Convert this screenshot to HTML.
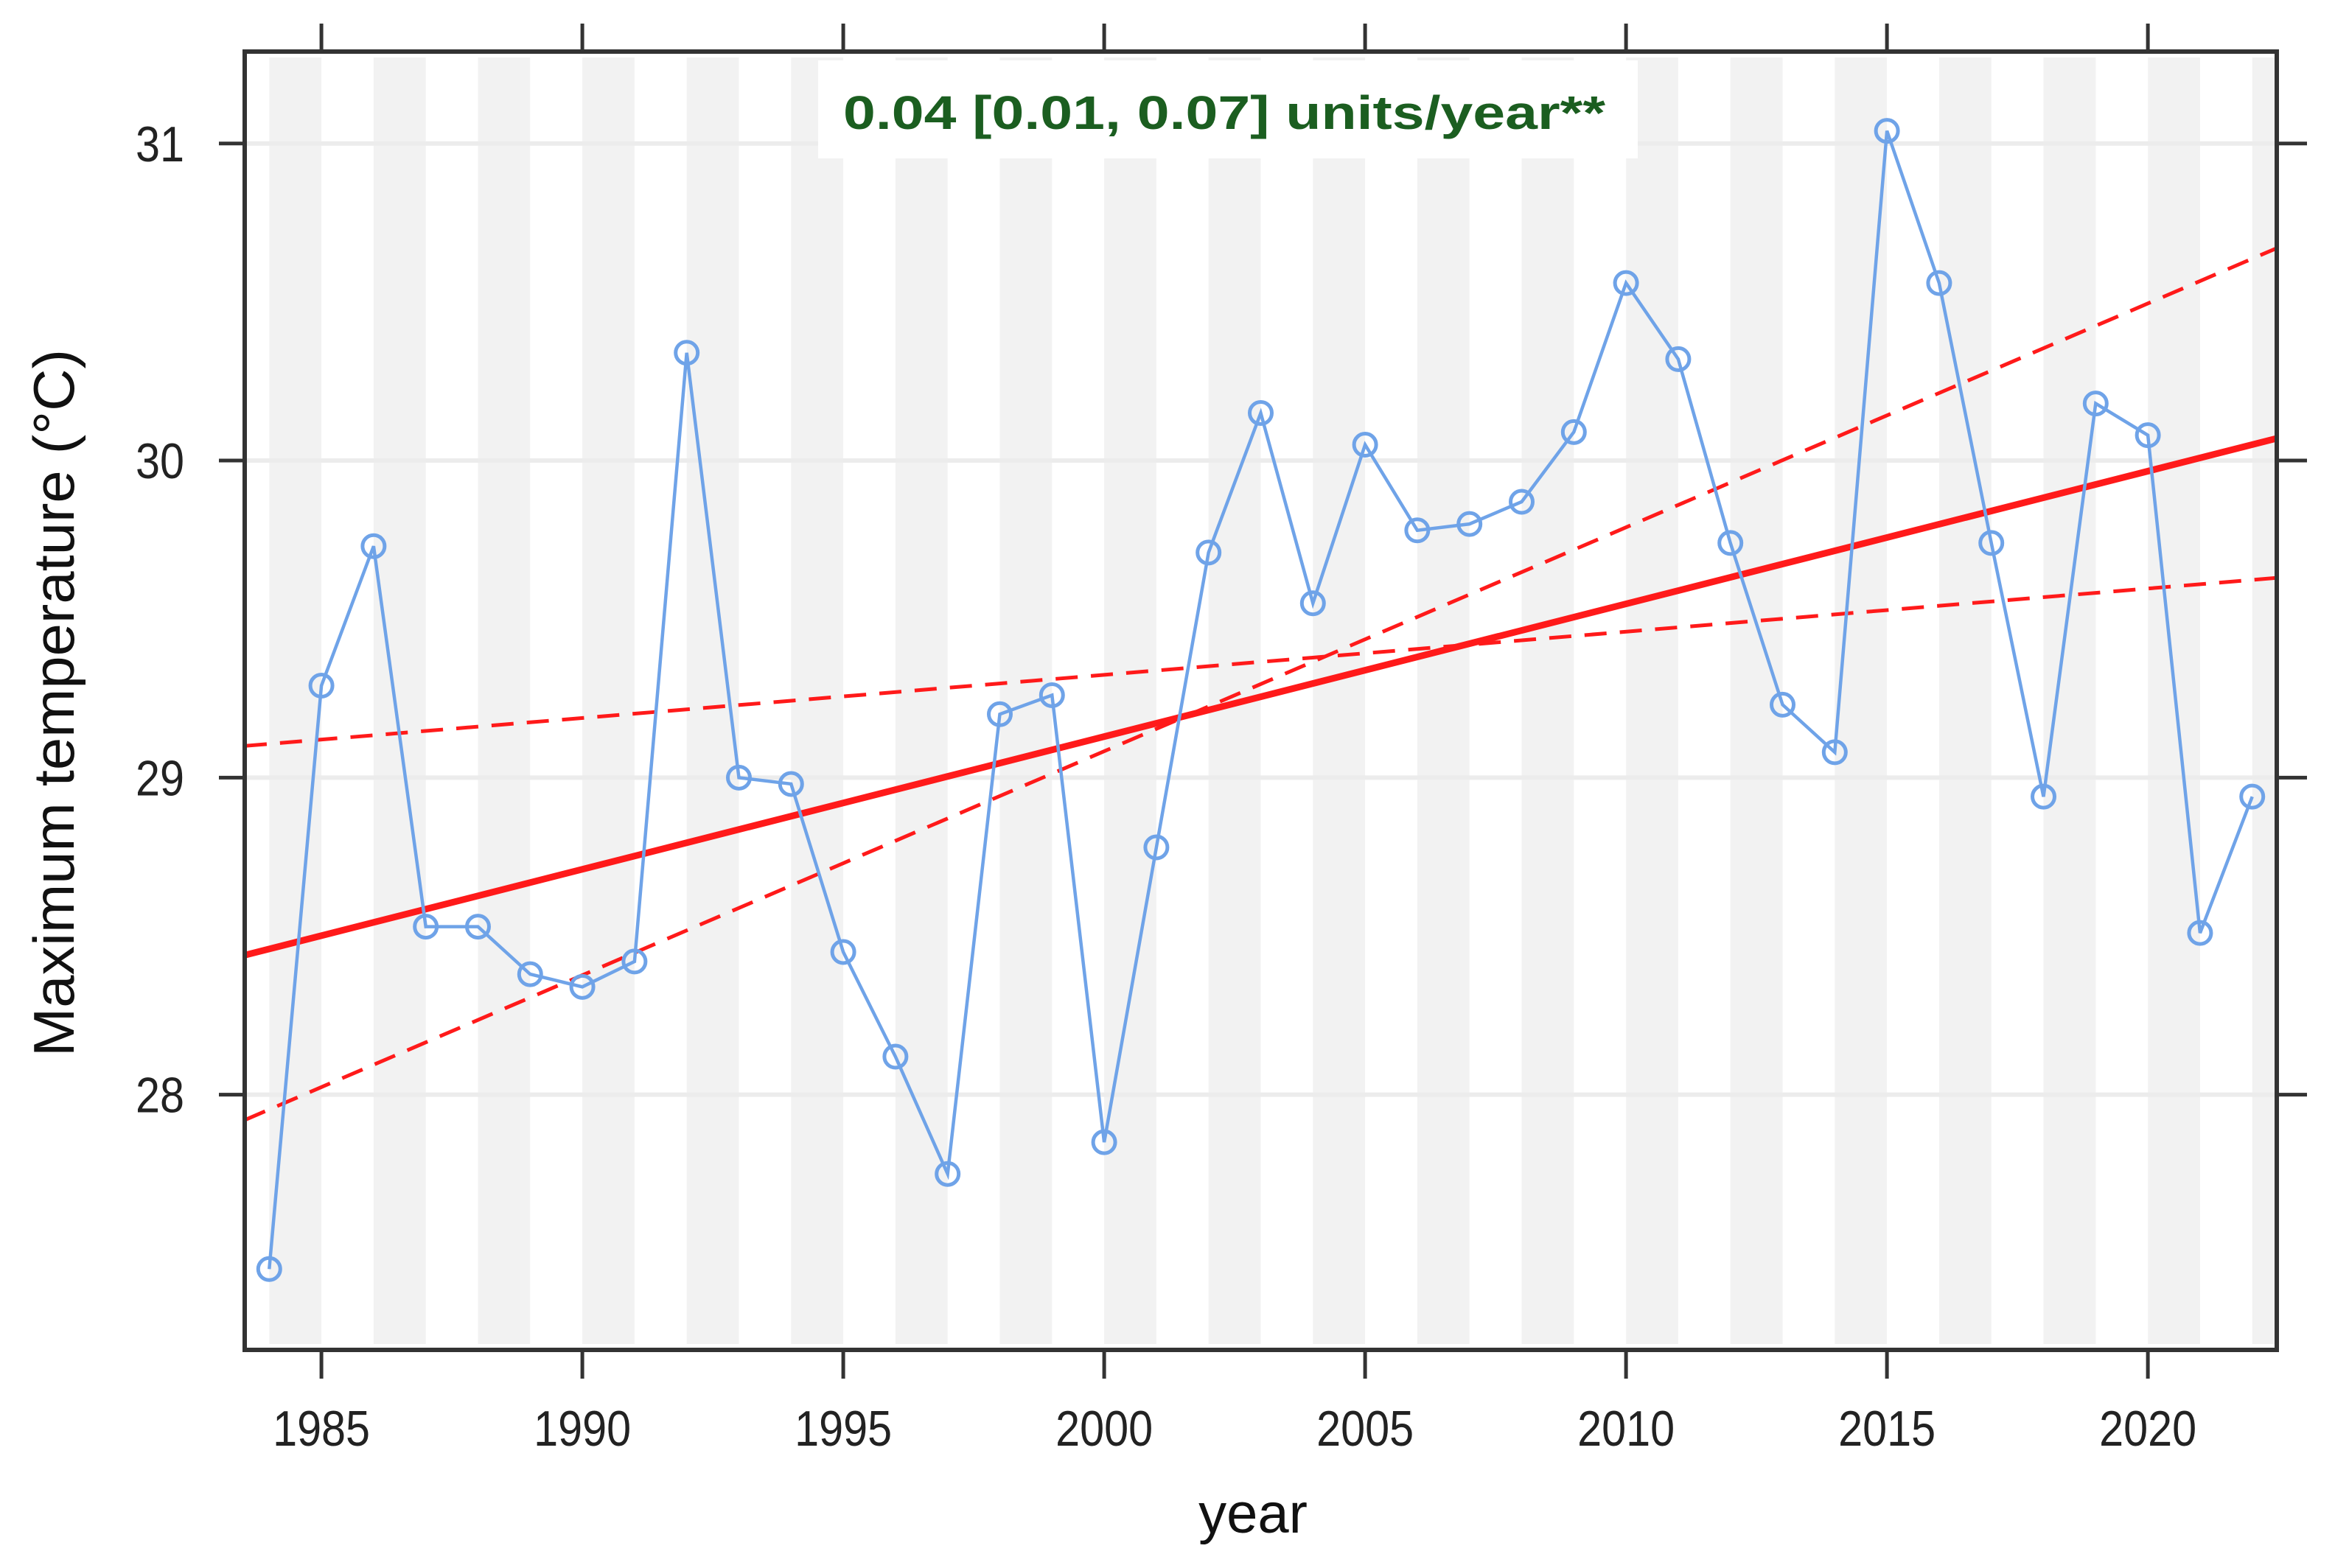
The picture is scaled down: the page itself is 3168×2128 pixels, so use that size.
<!DOCTYPE html>
<html><head><meta charset="utf-8"><style>
html,body{margin:0;padding:0;background:#fff;}
svg{display:block;font-family:"Liberation Sans",Arial,sans-serif;}
</style></head><body>
<svg id="chart" width="3168" height="2128" viewBox="0 0 3168 2128" xmlns="http://www.w3.org/2000/svg">
<rect width="3168" height="2128" fill="#fff"/>
<g id="stripes"></g>
<g id="grid"></g>
<g id="trend"></g>
<g id="series"></g>
<g id="axes"></g>
<rect x="1110" y="82" width="1112" height="133" fill="#fff"/>
<text x="1144" y="175" font-size="64" font-weight="bold" fill="#1b5e20" textLength="1034" lengthAdjust="spacingAndGlyphs">0.04 [0.01, 0.07] units/year**</text>
<text transform="translate(100,954) rotate(-90)" text-anchor="middle" font-size="78" fill="#111" textLength="960" lengthAdjust="spacingAndGlyphs">Maximum temperature (°C)</text>
<text x="1700" y="2080" text-anchor="middle" font-size="76" fill="#111">year</text>
</svg>
<script>
const years=[1984,1985,1986,1987,1988,1989,1990,1991,1992,1993,1994,1995,1996,1997,1998,1999,2000,2001,2002,2003,2004,2005,2006,2007,2008,2009,2010,2011,2012,2013,2014,2015,2016,2017,2018,2019,2020,2021,2022];
const temps=[27.45,29.29,29.73,28.53,28.53,28.38,28.34,28.42,30.34,29.0,28.98,28.45,28.12,27.75,29.2,29.26,27.85,28.78,29.71,30.15,29.55,30.05,29.78,29.8,29.87,30.09,30.56,30.32,29.74,29.23,29.08,31.04,30.56,29.74,28.94,30.18,30.08,28.51,28.94];
const xTicks=[1985,1990,1995,2000,2005,2010,2015,2020];
const yTicks=[28,29,30,31];
const trendStart=[28.44,27.92,29.10];
const trendEnd=[30.07,30.67,29.63];
const xMin=1983.53,xMax=2022.47,yMin=27.195,yMax=31.29;
const L=332,R=3089,T=70,B=1832;
const sx=v=>L+(v-xMin)/(xMax-xMin)*(R-L);
const sy=v=>B-(v-yMin)/(yMax-yMin)*(B-T);
const NS="http://www.w3.org/2000/svg";
function mk(tag,attrs,parent){const e=document.createElementNS(NS,tag);for(const k in attrs)e.setAttribute(k,attrs[k]);parent.appendChild(e);return e;}
const gS=document.getElementById('stripes'),gG=document.getElementById('grid'),gT=document.getElementById('trend'),gD=document.getElementById('series'),gA=document.getElementById('axes');
for(let y=1984;y<=2022;y+=2){
  const x1=Math.max(L,sx(y)),x2=Math.min(R,sx(y+1));
  const r=mk('rect',{x:x1,y:T+8,width:x2-x1,height:B-T-16,fill:'#f2f2f2'},gS);
  
  
}
yTicks.forEach(v=>{
  const l=mk('line',{x1:L,x2:R,y1:sy(v),y2:sy(v),stroke:'#ececec','stroke-width':6},gG);
  
  
});
const styles=[{w:9,d:''},{w:5,d:'30 18'},{w:5,d:'30 18'}];
trendStart.forEach((s,i)=>{
  const l=mk('line',{x1:L,y1:sy(s),x2:R,y2:sy(trendEnd[i]),stroke:'#ff1a1a','stroke-width':styles[i].w,'stroke-dasharray':styles[i].d},gT);
  
  
});
const pl=mk('polyline',{points:years.map((y,i)=>sx(y)+','+sy(temps[i])).join(' '),fill:'none',stroke:'#6fa3e8','stroke-width':4.5},gD);


years.forEach((y,i)=>{
  const c=mk('circle',{cx:sx(y),cy:sy(temps[i]),r:15,fill:'none',stroke:'#6fa3e8','stroke-width':5},gD);
  
  
});
const fr=mk('rect',{x:L,y:T,width:R-L,height:B-T,fill:'none',stroke:'#333','stroke-width':6},gA);


xTicks.forEach(v=>{
  const x=sx(v);
  const t1=mk('line',{x1:x,x2:x,y1:T,y2:T-38,stroke:'#333','stroke-width':5},gA);
  
  
  const t2=mk('line',{x1:x,x2:x,y1:B,y2:B+39,stroke:'#333','stroke-width':5},gA);
  
  
  const tx=mk('text',{x:x,y:1962,'text-anchor':'middle','font-size':68,fill:'#222',textLength:132,lengthAdjust:'spacingAndGlyphs'},gA);
  tx.textContent=v;
  
  
});
yTicks.forEach(v=>{
  const y=sy(v);
  const t1=mk('line',{x1:L,x2:L-35,y1:y,y2:y,stroke:'#333','stroke-width':5},gA);
  
  
  const t2=mk('line',{x1:R,x2:R+41,y1:y,y2:y,stroke:'#333','stroke-width':5},gA);
  
  
  const tx=mk('text',{x:250,y:y+24,'text-anchor':'end','font-size':68,fill:'#222',textLength:66,lengthAdjust:'spacingAndGlyphs'},gA);
  tx.textContent=v;
  
  
});
</script>
</body></html>
